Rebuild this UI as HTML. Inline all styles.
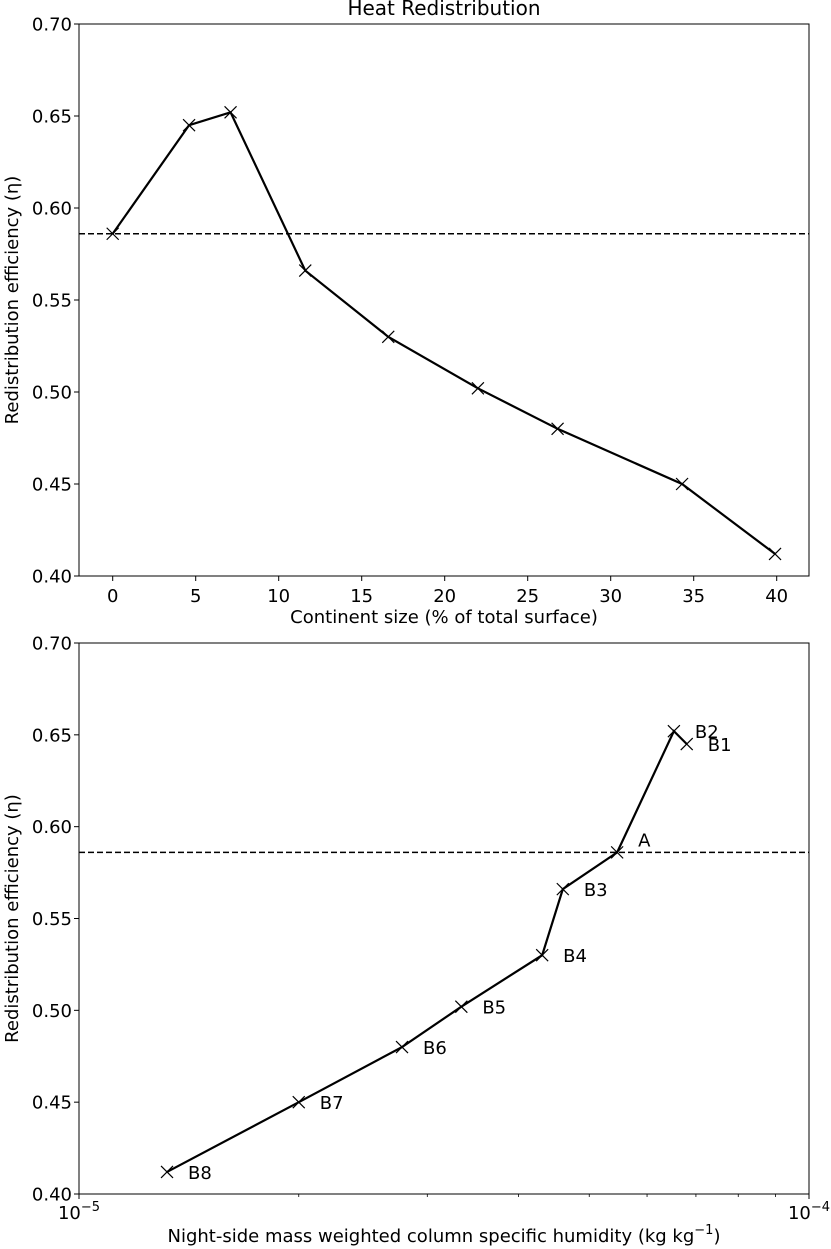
<!DOCTYPE html>
<html><head><meta charset="utf-8"><style>
body{margin:0;background:#fff}
svg{display:block;font-family:"DejaVu Sans","Liberation Sans",sans-serif}
</style></head><body>
<svg id="c" width="831" height="1249" viewBox="0 0 831 1249" xmlns="http://www.w3.org/2000/svg"></svg>
<script>
// Top panel data
const sizes = [0, 4.6, 7.1, 11.6, 16.6, 22.0, 26.8, 34.3, 39.9];
const etaTop = [0.586, 0.645, 0.652, 0.566, 0.530, 0.502, 0.480, 0.450, 0.412];
const xTicksTop = [0, 5, 10, 15, 20, 25, 30, 35, 40];
const yTicks = [0.40, 0.45, 0.50, 0.55, 0.60, 0.65, 0.70];
const refEta = 0.586;
// Bottom panel data
const labels = ["B8","B7","B6","B5","B4","B3","A","B2","B1"];
const humidity = [1.32e-5, 2.0e-5, 2.77e-5, 3.34e-5, 4.31e-5, 4.60e-5, 5.46e-5, 6.53e-5, 6.80e-5];
const etaBot = [0.412, 0.450, 0.480, 0.502, 0.530, 0.566, 0.586, 0.652, 0.645];

const NS = "http://www.w3.org/2000/svg";
const svg = document.getElementById('c');
function mk(tag, attrs, parent){const e=document.createElementNS(NS,tag);for(const k in attrs)e.setAttribute(k,attrs[k]);(parent||svg).appendChild(e);return e;}
const L=79,R=809;
const FS=18;
function panel(top,bottom,name){
  const g=mk('g',{});
  
  
  return g;
}
function yScale(top,bottom){return v=>bottom-(v-0.40)/(0.30)*(bottom-top);}
function drawY(g,ys,top,bottom){
  yTicks.forEach(t=>{
    const y=ys(t);
    mk('line',{x1:L-5,x2:L,y1:y,y2:y,stroke:'#000','stroke-width':1},g);
    const tx=mk('text',{x:L-7,y:y+6.5,'text-anchor':'end','font-size':FS},g);
    tx.textContent=t.toFixed(2);
    
    
  });
  const yl=mk('text',{x:0,y:0,'text-anchor':'middle','font-size':FS,transform:`translate(18,${(top+bottom)/2}) rotate(-90)`},g);
  yl.textContent='Redistribution efficiency (η)';
  
  
}
function marker(g,x,y){
  const m=mk('path',{d:`M${x-6},${y-6}L${x+6},${y+6}M${x-6},${y+6}L${x+6},${y-6}`,stroke:'#000','stroke-width':1.2,fill:'none'},g);
  
  
}
// ---- Top
{
  const T=24,B=576;
  const g=panel(T,B,'continent-size-panel');
  const ys=yScale(T,B);
  const xs=v=>112.7+v*16.6;
  const title=mk('text',{x:444,y:15,'text-anchor':'middle','font-size':20},g);
  title.textContent='Heat Redistribution';
  
  
  drawY(g,ys,T,B);
  xTicksTop.forEach(t=>{
    const x=xs(t);
    mk('line',{x1:x,x2:x,y1:B,y2:B+5,stroke:'#000','stroke-width':1},g);
    const tx=mk('text',{x:x,y:B+26,'text-anchor':'middle','font-size':FS},g);
    tx.textContent=t;
    
    
  });
  const xl=mk('text',{x:444,y:623,'text-anchor':'middle','font-size':FS},g);
  xl.textContent='Continent size (% of total surface)';
  
  
  const d=mk('line',{x1:L,x2:R,y1:ys(refEta),y2:ys(refEta),stroke:'#000','stroke-width':1.5,'stroke-dasharray':'6,3'},g);
  
  
  const pl=mk('polyline',{points:sizes.map((s,i)=>xs(s)+','+ys(etaTop[i])).join(' '),fill:'none',stroke:'#000','stroke-width':2.2},g);
  
  
  sizes.forEach((s,i)=>marker(g,xs(s),ys(etaTop[i])));
  const fr=mk('rect',{x:L,y:T,width:R-L,height:B-T,fill:'none',stroke:'#000','stroke-width':1},g);
  
  
}
// ---- Bottom
{
  const T=643,B=1194;
  const g=panel(T,B,'humidity-panel');
  const ys=yScale(T,B);
  const xs=v=>L+(Math.log10(v)+5)*(R-L);
  drawY(g,ys,T,B);
  for(let k=2;k<=9;k++){
    const x=xs(k*1e-5);
    mk('line',{x1:x,x2:x,y1:B,y2:B+3,stroke:'#000','stroke-width':0.8},g);
  }
  [[1e-5,'−5'],[1e-4,'−4']].forEach(([v,e])=>{
    const x=xs(v);
    mk('line',{x1:x,x2:x,y1:B,y2:B+5,stroke:'#000','stroke-width':1},g);
    const tx=mk('text',{x:x,y:B+25,'text-anchor':'middle','font-size':FS},g);
    tx.innerHTML='10<tspan dy="-8" font-size="13">'+e+'</tspan>';
    
    
  });
  const xl=mk('text',{x:444,y:1242,'text-anchor':'middle','font-size':FS},g);
  xl.innerHTML='Night-side mass weighted column specific humidity (kg kg<tspan dy="-8" font-size="13">−1</tspan><tspan dy="8">)</tspan>';
  
  
  const d=mk('line',{x1:L,x2:R,y1:ys(refEta),y2:ys(refEta),stroke:'#000','stroke-width':1.5,'stroke-dasharray':'6,3'},g);
  
  
  const pl=mk('polyline',{points:humidity.map((h,i)=>xs(h)+','+ys(etaBot[i])).join(' '),fill:'none',stroke:'#000','stroke-width':2.2},g);
  
  
  humidity.forEach((h,i)=>{
    const x=xs(h),y=ys(etaBot[i]);
    marker(g,x,y);
    const dy = labels[i]==='A' ? -6 : 7;
    const t=mk('text',{x:x+21,y:y+dy,'font-size':FS},g);
    t.textContent=labels[i];
    
    
  });
  const fr=mk('rect',{x:L,y:T,width:R-L,height:B-T,fill:'none',stroke:'#000','stroke-width':1},g);
  
  
}
</script>
</body></html>
